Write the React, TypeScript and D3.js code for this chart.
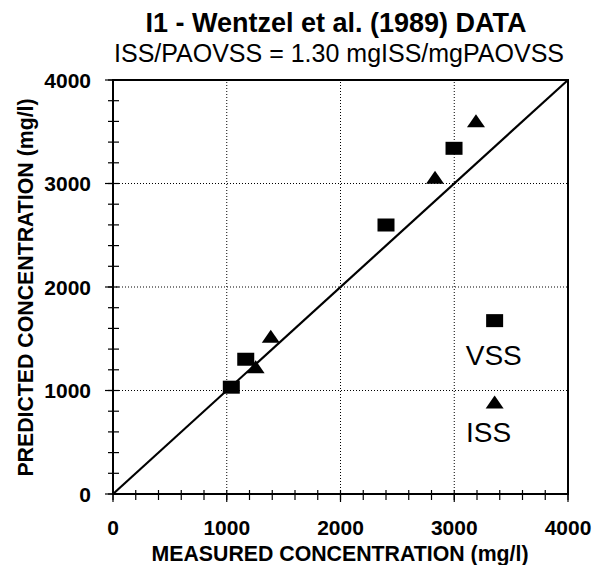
import React from "react";
import * as d3 from "d3";

const vssMeasured = [1040, 1167, 2400, 2998];
const vssPredicted = [1032, 1302, 2599, 3340];
const issMeasured = [1254, 1387, 2831, 3191];
const issPredicted = [1230, 1525, 3060, 3607];
const majorTicks = [0, 1000, 2000, 3000, 4000];
const minorTicks = d3.range(0, 4001, 200);
const gridValues = [1000, 2000, 3000];
const legendItems = [
  { label: "VSS", shape: "square", mx: 3355, my: 1675, tx: 3435, ty: 1245 },
  { label: "ISS", shape: "triangle", mx: 3355, my: 890, tx: 3390, ty: 500 },
];

const W = 603;
const H = 565;
const FONT = "'Liberation Sans', Arial, Helvetica, sans-serif";

export default function App() {
  const x = d3.scaleLinear().domain([0, 4000]).range([113, 568]);
  const y = d3.scaleLinear().domain([0, 4000]).range([494, 80]);
  const [x0, x1] = x.range();
  const [y0, y1] = y.range();

  const sqW = 17, sqH = 13, trW = 18, trH = 13;
  const square = (cx: number, cy: number, key: string) => (
    <rect key={key} x={cx - sqW / 2} y={cy - sqH / 2} width={sqW} height={sqH} fill="#000" />
  );
  const triangle = (cx: number, cy: number, key: string) => (
    <path
      key={key}
      d={`M${cx - trW / 2},${cy + trH / 2}L${cx + trW / 2},${cy + trH / 2}L${cx},${cy - trH / 2}Z`}
      fill="#000"
    />
  );
  const diag = d3.line<number>().x((d) => x(d)).y((d) => y(d))([0, 4000]) || "";

  return (
    <svg
      width={W}
      height={H}
      style={{ position: "absolute", left: 0, top: 0, background: "#fff" }}
      fontFamily={FONT}
    >
      <rect x={0} y={0} width={W} height={H} fill="#fff" />
      {/* grid */}
      {gridValues.map((v) => (
        <g key={"g" + v}>
          <line x1={x(v)} x2={x(v)} y1={y0} y2={y1} stroke="#000" strokeWidth={1} strokeDasharray="1,2" />
          <line x1={x0} x2={x1} y1={y(v)} y2={y(v)} stroke="#000" strokeWidth={1} strokeDasharray="1,2" />
        </g>
      ))}
      {/* minor ticks */}
      {minorTicks.map((v) => (
        <g key={"m" + v}>
          <line x1={x0 - 5} x2={x0 + 6} y1={y(v)} y2={y(v)} stroke="#000" strokeWidth={1.2} />
          <line x1={x(v)} x2={x(v)} y1={y0 - 4} y2={y0 + 6} stroke="#000" strokeWidth={1.2} />
        </g>
      ))}
      {/* major ticks */}
      {majorTicks.map((v) => (
        <g key={"M" + v}>
          <line x1={x0 - 8} x2={x0} y1={y(v)} y2={y(v)} stroke="#000" strokeWidth={1.2} />
          <line x1={x(v)} x2={x(v)} y1={y0} y2={y0 + 8} stroke="#000" strokeWidth={1.2} />
        </g>
      ))}
      {/* frame */}
      <rect x={x0} y={y1} width={x1 - x0} height={y0 - y1} fill="none" stroke="#000" strokeWidth={2} />
      {/* 1:1 line */}
      <path d={diag} stroke="#000" strokeWidth={2.2} fill="none" />
      {/* data */}
      {vssMeasured.map((m, i) => square(x(m), y(vssPredicted[i]), "v" + i))}
      {issMeasured.map((m, i) => triangle(x(m), y(issPredicted[i]), "i" + i))}
      {/* legend */}
      {legendItems.map((it) => (
        <g key={it.label}>
          {it.shape === "square" ? square(x(it.mx), y(it.my), "ls") : triangle(x(it.mx), y(it.my), "lt")}
          <text x={x(it.tx) - 10} y={y(it.ty)} fontSize={28} textAnchor="middle">
            {it.label}
          </text>
        </g>
      ))}
      {/* tick labels */}
      {majorTicks.map((v) => (
        <text key={"yl" + v} x={91} y={y(v)} dy="0.36em" textAnchor="end" fontSize={21} fontWeight="bold">
          {v}
        </text>
      ))}
      {majorTicks.map((v) => (
        <text key={"xl" + v} x={x(v)} y={535} textAnchor="middle" fontSize={21} fontWeight="bold">
          {v}
        </text>
      ))}
      {/* axis titles */}
      <text x={340} y={561} textAnchor="middle" fontSize={21.3} fontWeight="bold">
        MEASURED CONCENTRATION (mg/l)
      </text>
      <text
        transform="translate(33,287.5) rotate(-90)"
        textAnchor="middle"
        fontSize={21.3}
        fontWeight="bold"
      >
        PREDICTED CONCENTRATION (mg/l)
      </text>
      {/* titles */}
      <text x={336} y={32} textAnchor="middle" fontSize={27} fontWeight="bold">
        I1 - Wentzel et al. (1989) DATA
      </text>
      <text x={339} y={62} textAnchor="middle" fontSize={25}>
        ISS/PAOVSS = 1.30 mgISS/mgPAOVSS
      </text>
    </svg>
  );
}
